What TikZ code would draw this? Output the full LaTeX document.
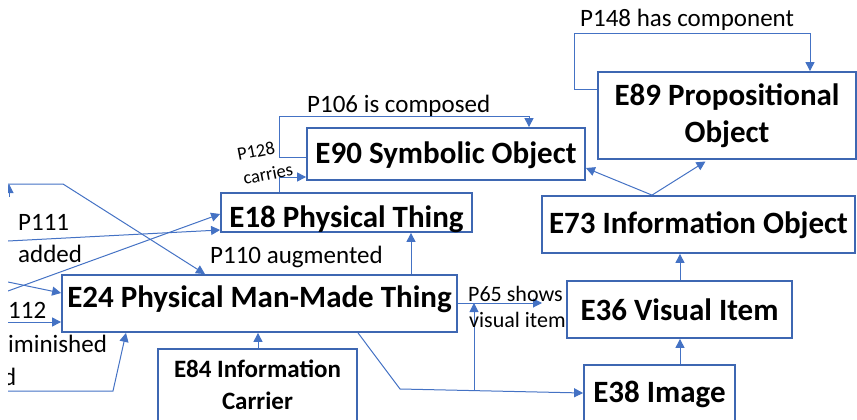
\documentclass[tikz,border=0pt]{standalone}
\usepackage{fontspec}
\setmainfont{Carlito}
\usetikzlibrary{arrows.meta}
\definecolor{boxblue}{RGB}{62,103,178}
\definecolor{lineblue}{RGB}{68,114,196}
\begin{document}
\begin{tikzpicture}[x=1pt,y=-1pt,
  cls/.style={draw=boxblue, line width=1.8pt, inner sep=0pt, font=\fontsize{31}{37}\selectfont\bfseries, align=center},
  conn/.style={draw=lineblue, line width=1pt},
  arr/.style={conn, -{Triangle[length=9pt,width=9pt]}},
  lbl/.style={inner sep=0pt, anchor=base west, font=\fontsize{25}{30}\selectfont},
  slbl/.style={lbl, font=\fontsize{22}{26}\selectfont},
  rlbl/.style={inner sep=0pt, rotate=11, font=\fontsize{18.5}{22}\selectfont},
]
\useasboundingbox (0,0) rectangle (857,420);
\clip (8,0) rectangle (857,420);

% boxes
\node[cls, minimum width=278, minimum height=52, text height=20pt, text depth=2pt] (E90) at (446,154) {E90 Symbolic Object};
\node[cls, minimum width=251, minimum height=39, text height=29pt, text depth=0pt] (E18) at (346.5,212.5) {E18 Physical Thing};
\node[cls, minimum width=258, minimum height=87] (E89) at (727,115.5) {E89 Propositional\\Object};
\node[cls, minimum width=313, minimum height=57, text height=20pt, text depth=3pt] (E73) at (698.5,224.5) {E73 Information Object};
\node[cls, minimum width=225, minimum height=57, text height=21pt, text depth=0pt] (E36) at (679.5,309.5) {E36 Visual Item};
\node[cls, minimum width=151, minimum height=74, text height=10pt, text depth=10pt] (E38) at (659.5,402) {E38 Image};
\node[cls, minimum width=395, minimum height=57, text height=20pt, text depth=13pt] (E24) at (259.5,303.5) {E24 Physical Man-Made Thing};
\node[cls, minimum width=199, minimum height=72, font=\fontsize{25}{32}\selectfont\bfseries] (E84) at (257.5,385) {E84 Information\\Carrier};

% connectors between boxes
\draw[arr] (E89.west |- 0,90) -- (574,90) -- (574,34) -- (810,34) -- (E89.north -| 810,0);
\draw[arr] (E90.west |- 0,157) -- (279,157) -- (279,116) -- (529,116) -- (E90.north -| 529,0);
\draw[arr] (E18.north -| 279,0) -- (279,177) -- (E90.west |- 0,177);
\draw[arr] (E73.north -| 652,0) -- (E90.east |- 0,168);
\draw[arr, shorten >=3pt] (E73.north -| 652,0) -- (E89.south -| 708,0);
\draw[arr] (E36.north -| 680,0) -- (E73.south -| 680,0);
\draw[arr] (E38.north -| 680,0) -- (E36.south -| 680,0);
\draw[arr] (E24.north -| 411,0) -- (E18.south -| 411,0);
\draw[arr] (E84.north -| 258,0) -- (E24.south -| 258,0);
\coordinate (p65end) at (542,303);
\draw[arr] (E24.east |- 0,303) -- (p65end);
\draw[arr] (E24.south -| 358,0) -- (400,389) -- (E38.west |- 0,393);
\coordinate (vstart) at (474,390);
\draw[arr] (vstart) -- (vstart |- p65end);

% connectors from the left edge
\coordinate (L0) at (9,197);
\coordinate (L1) at (8,184);
\coordinate (L2) at (8,241);
\coordinate (L3) at (8,291);
\coordinate (L4) at (8,282);
\coordinate (L5) at (8,322);
\coordinate (L6) at (8,391);
\draw[arr] (L0) -- (L0 |- L1);
\draw[arr] (L1) -- (63,184) -- (E24.north -| 205,0);
\draw[arr] (L2) -- (E18.west |- 0,230);
\draw[arr] (L3) -- (E18.west |- 0,214);
\draw[arr] (L4) -- (E24.west |- 0,293);
\draw[arr] (L5) -- (E24.west |- 0,322);
\draw[arr] (L6) -- (113,391) -- (E24.south -| 126,0);

% labels
\node[lbl] (l148) at (580,27) {P148 has component};
\node[lbl] (l106) at (307,113) {P106 is composed};
\node[lbl] (l110) at (210,263) {P110 augmented};
\node[lbl] (l111) at (18,230) {P111};
\node[lbl] (ladded) at (18,262) {added};
\node[lbl] (l112) at (8,318) {112};
\node[lbl] (ldim) at (8,352) {iminished};
\node[lbl] (ld) at (3,385) {d};
\node[slbl] (l65a) at (468,301) {P65 shows};
\node[slbl] (l65b) at (469,327) {visual item};
\node[rlbl] (l128a) at (256,151) {P128};
\node[rlbl] (l128b) at (268,174) {carries};
\end{tikzpicture}
\end{document}
